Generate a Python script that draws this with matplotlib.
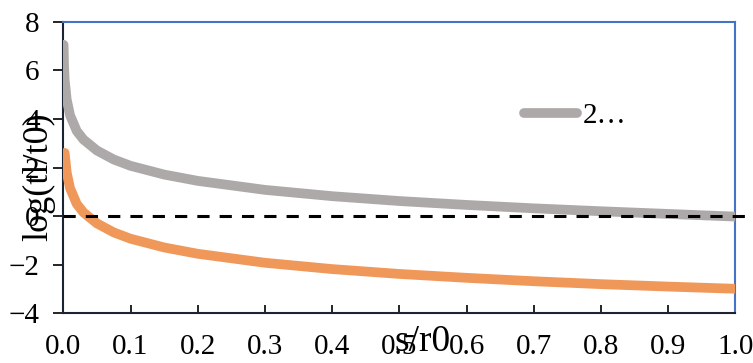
import matplotlib
matplotlib.use("Agg")
import matplotlib.pyplot as plt

plt.rcParams['font.family'] = ['Liberation Serif', 'DejaVu Serif']

# values
s_gray = [0.0004, 0.001, 0.002, 0.005, 0.01, 0.02, 0.03, 0.05, 0.075, 0.1,
          0.15, 0.2, 0.3, 0.4, 0.5, 0.6, 0.7, 0.8, 0.9, 1.0]
log_gray = [7.05, 6.2, 5.6, 4.8, 4.15, 3.5, 3.15, 2.7, 2.33, 2.07,
            1.71, 1.45, 1.08, 0.82, 0.62, 0.46, 0.32, 0.2, 0.09, -0.02]

s_orange = [0.002, 0.005, 0.01, 0.02, 0.03, 0.05, 0.075, 0.1,
            0.15, 0.2, 0.3, 0.4, 0.5, 0.6, 0.7, 0.8, 0.9, 1.0]
log_orange = [2.6, 1.8, 1.15, 0.5, 0.15, -0.3, -0.67, -0.93,
              -1.29, -1.55, -1.92, -2.18, -2.38, -2.54, -2.68, -2.8, -2.9, -2.99]

ref_x = [0.0, 1.02]
ref_y = [0.0, 0.0]

x_ticks = [0.0, 0.1, 0.2, 0.3, 0.4, 0.5, 0.6, 0.7, 0.8, 0.9, 1.0]
y_ticks = [-4, -2, 0, 2, 4, 6, 8]

fig = plt.figure(figsize=(7.53, 3.63), dpi=100)
ax = fig.add_axes([0.0841, 0.1369, 0.8924, 0.8033])

ax.plot(s_gray, log_gray, color='#ADA9A9', lw=7, solid_capstyle='round', label='2…', zorder=3)
ax.plot(s_orange, log_orange, color='#F0985A', lw=7, solid_capstyle='round', zorder=3)
ax.plot(ref_x, ref_y, color='black', lw=2.2, dashes=(4, 3.3), clip_on=False, zorder=4)

ax.set_xlim(0, 1.0)
ax.set_ylim(-4, 8)
ax.set_xticks(x_ticks)
ax.set_xticklabels([f"{v:.1f}" for v in x_ticks])
ax.set_yticks(y_ticks)
ax.tick_params(axis='x', direction='in', length=6, width=1.2, labelsize=21, pad=15)
ax.tick_params(axis='y', direction='out', length=7, width=1.2, labelsize=21, pad=10)

ax.spines['left'].set_color('#1b2435')
ax.spines['bottom'].set_color('#1b2435')
ax.spines['top'].set_color('#4472C4')
ax.spines['right'].set_color('#4472C4')
for sp in ax.spines.values():
    sp.set_linewidth(1.5)

ax.set_xlabel('s/r0', fontsize=27)
ax.xaxis.set_label_coords(0.534, -0.04, transform=ax.transAxes)
ax.xaxis.label.set_va('top')
ax.set_ylabel('log(tl/t0)', fontsize=26)
ax.yaxis.set_label_coords(-0.012, 0.47, transform=ax.transAxes)

ax.legend(loc='center left', bbox_to_anchor=(0.686, 0.677), frameon=False,
          fontsize=21, handlelength=1.8, handletextpad=0.2, borderpad=0,
          borderaxespad=0)

fig.savefig('out.png', dpi=100)
